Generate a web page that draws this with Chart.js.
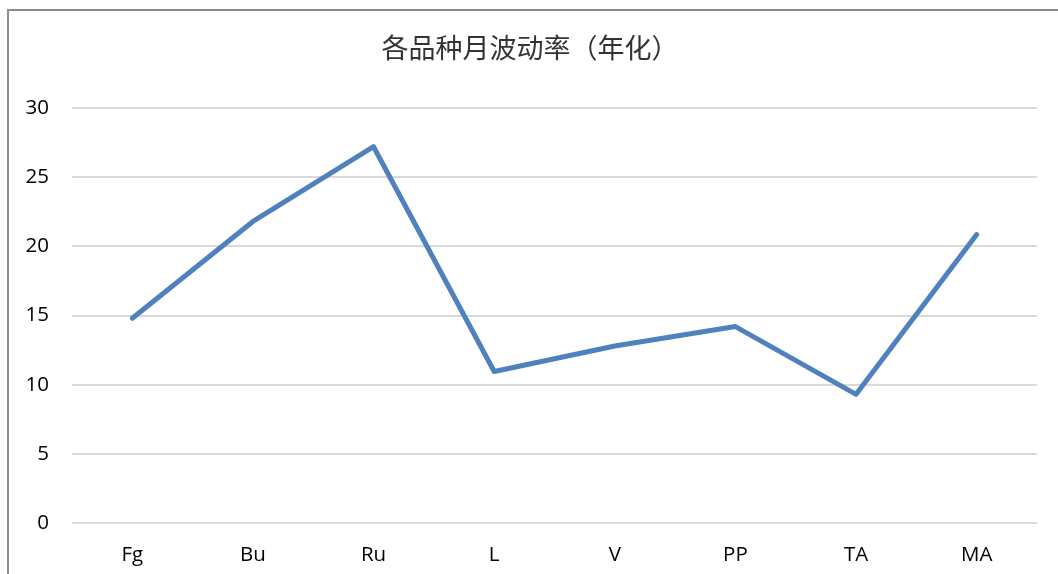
<!DOCTYPE html>
<html>
<head>
<meta charset="utf-8">
<script src="https://cdn.jsdelivr.net/npm/chart.js@4"></script>
<style>
  html, body { margin: 0; padding: 0; background: #fff; overflow: hidden; }
  #frame {
    position: absolute; left: 7px; top: 9px; width: 1100px; height: 600px;
    border-left: 2px solid #8c8c8c; border-top: 2px solid #8c8c8c;
  }
  #wrap { position: absolute; left: 0; top: 0; width: 1058px; height: 574px; }
</style>
</head>
<body>
<div id="frame"></div>
<div id="wrap"><canvas id="chart"></canvas></div>
<script>
  // Chart data
  const categories = ["Fg", "Bu", "Ru", "L", "V", "PP", "TA", "MA"];
  const volatility = [14.8, 21.8, 27.2, 10.95, 12.8, 14.2, 9.3, 20.85];
  const yTicks = [0, 5, 10, 15, 20, 25, 30];

  const ctx = document.getElementById("chart");

  new Chart(ctx, {
    type: "line",
    data: {
      labels: categories,
      datasets: [
        {
          label: "波动率",
          data: volatility,
          borderColor: "#4f81bd",
          backgroundColor: "#4f81bd",
          borderWidth: 5,
          borderJoinStyle: "round",
          borderCapStyle: "round",
          pointRadius: 0,
          fill: false,
          tension: 0,
        },
      ],
    },
    options: {
      responsive: true,
      maintainAspectRatio: false,
      animation: false,
      layout: {
        padding: { left: 23, right: 21, top: 0, bottom: 0 },
      },
      plugins: {
        legend: { display: false },
        tooltip: { enabled: false },
        title: {
          display: true,
          text: "各品种月波动率（年化）",
          color: "#333333",
          font: { family: "'Noto Sans CJK SC'", size: 27, weight: "normal", lineHeight: 1.2 },
          padding: { top: 32, bottom: 43.6 },
        },
      },
      scales: {
        x: {
          offset: true,
          grid: { display: false, drawTicks: false },
          border: { display: false },
          ticks: {
            color: "#000000",
            padding: 20,
            maxRotation: 0,
            font: { family: "'Open Sans'", size: 20.5 },
          },
          afterFit: (scale) => {
            scale.height = 51;
          },
        },
        y: {
          min: yTicks[0],
          max: yTicks[yTicks.length - 1],
          grid: { color: "#d9d9d9", lineWidth: 2, drawTicks: false },
          border: { display: false },
          ticks: {
            stepSize: 5,
            color: "#000000",
            padding: 23,
            font: { family: "'Open Sans'", size: 20.5 },
          },
          afterBuildTicks: (scale) => {
            scale.ticks = yTicks.map((v) => ({ value: v }));
          },
          afterFit: (scale) => {
            scale.width = 49;
          },
        },
      },
    },
  });
</script>
</body>
</html>
